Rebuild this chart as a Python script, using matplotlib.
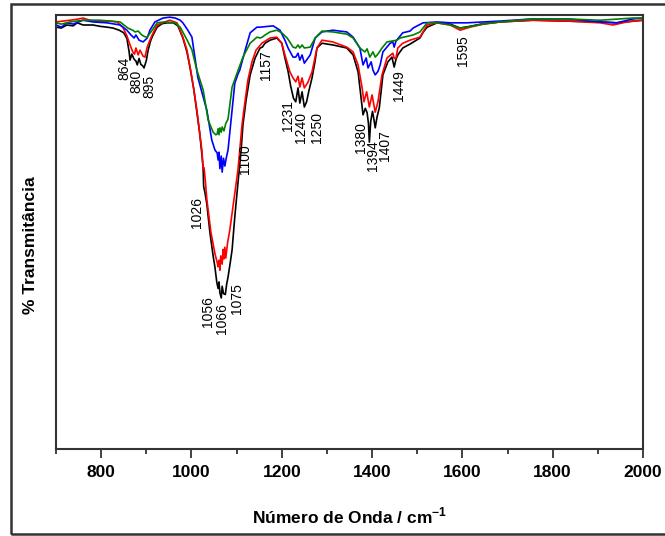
import matplotlib
matplotlib.use("Agg")

import matplotlib.pyplot as plt
from matplotlib.patches import Rectangle

plt.rcParams["font.family"] = ["Liberation Sans", "DejaVu Sans"]
plt.rcParams["mathtext.fontset"] = "custom"
plt.rcParams["mathtext.rm"] = "Liberation Sans"
plt.rcParams["mathtext.bf"] = "Liberation Sans:bold"

# spectra (wavenumber, % transmittance)
black_wn = [700, 712, 724, 738, 747, 760, 782, 797, 813, 826, 840, 850, 857, 862, 864,
            868, 873, 877, 880, 884, 888, 892, 895, 900, 904, 910, 915, 924, 935, 946,
            960, 970, 981, 990, 997, 1005, 1012, 1018, 1021, 1024, 1026, 1027, 1030,
            1034, 1041, 1048, 1052, 1056, 1059, 1061, 1063, 1066, 1068, 1071, 1075,
            1078, 1081, 1086, 1090, 1096, 1100, 1103, 1110, 1114, 1121, 1130, 1141,
            1152, 1157, 1163, 1174, 1189, 1200, 1207, 1214, 1220, 1226, 1231, 1236,
            1240, 1245, 1250, 1255, 1260, 1267, 1274, 1278, 1289, 1313, 1344, 1358,
            1369, 1375, 1380, 1385, 1389, 1392, 1394, 1397, 1401, 1404, 1407, 1411,
            1416, 1420, 1424, 1435, 1444, 1449, 1453, 1457, 1468, 1484, 1495, 1506,
            1513, 1522, 1544, 1573, 1595, 1617, 1646, 1683, 1756, 1832, 1905, 1942,
            1978, 2000]
black_t = [97.2, 97.0, 97.7, 97.5, 98.2, 97.7, 97.7, 97.4, 97.2, 97.0, 96.5, 95.9, 94.6,
           91.5, 89.6, 91.0, 89.8, 89.4, 88.5, 90.0, 88.6, 88.3, 87.8, 89.5, 91.9, 94.2,
           95.4, 97.2, 98.0, 98.2, 98.2, 97.5, 94.7, 91.5, 87.8, 83.0, 77.6, 73.0, 70.0,
           67.0, 64.3, 60.5, 59.0, 56.5, 49.8, 44.5, 41.9, 38.5, 37.0, 38.5, 36.0, 34.8,
           37.5, 35.8, 35.6, 38.0, 39.6, 43.0, 45.9, 53.5, 58.0, 61.3, 68.9, 74.7, 80.4,
           86.2, 90.1, 92.4, 92.6, 93.5, 94.2, 94.7, 93.5, 90.1, 87.0, 83.5, 80.8, 80.0,
           83.2, 79.7, 82.3, 78.8, 80.0, 82.5, 85.5, 89.5, 92.4, 93.5, 93.1, 92.4, 90.8,
           86.9, 81.5, 77.0, 78.5, 77.5, 75.0, 70.7, 75.5, 77.8, 76.0, 74.0, 76.5, 78.6,
           82.5, 86.2, 89.2, 90.3, 88.0, 89.8, 90.8, 92.4, 93.3, 94.0, 94.7, 96.0, 97.2,
           98.2, 97.9, 97.0, 97.4, 98.0, 98.4, 98.8, 98.6, 98.4, 98.2, 98.6, 98.8]

red_wn = [700, 715, 731, 745, 760, 775, 797, 820, 835, 848, 857, 864, 870, 874, 877,
          882, 886, 893, 897, 902, 908, 913, 924, 941, 952, 968, 981, 990, 997, 1005,
          1012, 1018, 1023, 1026, 1028, 1031, 1034, 1043, 1052, 1057, 1059, 1061, 1063,
          1065, 1068, 1070, 1072, 1074, 1076, 1080, 1085, 1094, 1103, 1107, 1112, 1119,
          1125, 1134, 1143, 1156, 1174, 1189, 1200, 1207, 1218, 1225, 1231, 1236, 1240,
          1245, 1250, 1258, 1267, 1278, 1289, 1313, 1344, 1358, 1369, 1378, 1382, 1388,
          1394, 1400, 1407, 1413, 1422, 1433, 1446, 1449, 1453, 1457, 1468, 1484, 1506,
          1522, 1544, 1573, 1595, 1617, 1646, 1683, 1756, 1832, 1905, 1934, 1964, 2000]
red_t = [98.4, 98.6, 98.8, 99.0, 99.3, 98.8, 98.4, 98.6, 98.4, 97.2, 95.2, 93.1, 91.5,
         91.0, 92.4, 90.8, 91.9, 90.5, 90.3, 92.6, 94.2, 95.4, 97.7, 98.4, 98.8, 98.2,
         94.9, 91.9, 88.0, 83.0, 78.1, 73.0, 68.9, 64.5, 64.8, 61.5, 57.6, 50.0, 45.0,
         43.0, 42.0, 43.5, 41.2, 44.5, 42.6, 46.0, 43.8, 46.5, 44.0, 47.5, 50.5, 57.4,
         64.3, 68.9, 74.7, 80.4, 85.0, 89.2, 91.9, 93.5, 94.7, 94.9, 93.5, 90.8, 86.9,
         85.5, 84.6, 85.9, 83.4, 85.5, 83.2, 84.5, 86.9, 92.4, 94.2, 93.8, 92.6, 91.5,
         88.5, 83.2, 80.0, 82.3, 78.8, 81.6, 77.6, 80.0, 86.2, 90.1, 91.2, 90.0, 90.1,
         92.4, 93.5, 94.2, 94.9, 97.7, 98.2, 97.7, 96.5, 97.2, 97.9, 98.4, 98.8, 98.6,
         98.2, 97.7, 98.4, 98.8]

blue_wn = [700, 712, 724, 738, 760, 782, 813, 842, 857, 866, 873, 877, 884, 893, 902,
           908, 919, 937, 952, 964, 975, 981, 992, 1001, 1008, 1014, 1026, 1034, 1045,
           1052, 1057, 1059, 1061, 1063, 1066, 1068, 1071, 1074, 1077, 1081, 1090, 1096,
           1103, 1107, 1119, 1130, 1145, 1152, 1181, 1196, 1207, 1214, 1225, 1231, 1236,
           1240, 1245, 1250, 1263, 1274, 1289, 1313, 1344, 1358, 1373, 1380, 1387, 1391,
           1398, 1402, 1407, 1413, 1418, 1424, 1440, 1446, 1449, 1453, 1468, 1484, 1491,
           1513, 1544, 1573, 1610, 1646, 1683, 1756, 1832, 1905, 1942, 1978, 2000]
blue_t = [97.7, 97.2, 98.2, 97.9, 98.8, 98.4, 98.2, 97.7, 96.5, 95.4, 94.7, 95.4, 94.2,
          93.8, 94.7, 96.5, 98.4, 99.3, 99.5, 99.3, 98.8, 98.2, 96.5, 94.9, 90.0, 85.7,
          81.1, 78.1, 71.2, 68.9, 68.2, 66.6, 68.4, 64.6, 67.5, 63.8, 67.0, 65.2, 67.0,
          68.9, 78.1, 84.3, 86.4, 87.3, 91.9, 95.9, 97.2, 97.2, 97.5, 96.5, 94.2, 92.4,
          90.3, 90.3, 91.2, 89.6, 90.8, 88.9, 90.8, 94.7, 96.1, 96.5, 96.1, 94.9, 92.4,
          88.5, 90.1, 87.8, 89.2, 87.3, 86.2, 87.0, 88.5, 91.5, 93.5, 93.8, 92.6, 94.0,
          95.9, 96.3, 97.0, 98.2, 98.4, 98.2, 98.2, 98.4, 98.6, 99.1, 99.1, 98.4, 98.2,
          99.1, 99.3]

green_wn = [700, 712, 731, 760, 797, 842, 859, 870, 875, 882, 890, 897, 902, 913, 924,
            941, 964, 975, 988, 1001, 1012, 1026, 1037, 1048, 1054, 1057, 1059, 1061,
            1063, 1066, 1068, 1072, 1076, 1081, 1090, 1101, 1114, 1130, 1145, 1152, 1157,
            1163, 1174, 1189, 1200, 1212, 1225, 1231, 1236, 1240, 1245, 1250, 1263, 1274,
            1289, 1313, 1344, 1358, 1373, 1384, 1389, 1395, 1402, 1407, 1413, 1422, 1433,
            1455, 1462, 1491, 1506, 1522, 1544, 1573, 1595, 1610, 1646, 1683, 1756, 1832,
            1905, 1978, 2000]
green_t = [98.2, 97.9, 98.4, 98.8, 98.8, 98.4, 97.0, 96.5, 96.1, 96.3, 95.4, 95.0, 94.9,
           96.5, 98.2, 98.4, 98.2, 97.2, 94.7, 92.0, 87.3, 82.7, 75.8, 73.0, 72.4, 72.6,
           73.8, 72.4, 74.0, 73.0, 74.2, 73.3, 75.0, 76.0, 83.4, 86.6, 90.3, 93.5, 94.9,
           94.7, 94.9, 95.4, 96.1, 96.5, 95.9, 94.7, 92.6, 92.4, 93.1, 92.4, 93.1, 92.4,
           92.6, 94.7, 96.3, 96.1, 95.6, 94.7, 92.4, 91.5, 92.2, 90.3, 91.5, 90.3, 91.0,
           92.4, 93.8, 94.2, 94.7, 95.4, 96.1, 98.2, 98.2, 97.7, 97.0, 97.2, 97.9, 98.4,
           99.1, 99.1, 98.8, 99.3, 99.3]

# peak annotations: text, x anchor (cm-1), top of text (% T)
peak_text = ["864", "880", "895", "1026", "1056", "1066", "1075", "1100", "1157",
             "1231", "1240", "1250", "1380", "1394", "1407", "1449", "1595"]
peak_x = [852, 878, 907, 1012, 1037, 1068, 1101, 1119, 1165,
          1214, 1243, 1278, 1375, 1401, 1429, 1460, 1601]
peak_y = [90.3, 87.3, 86.2, 58.1, 35.3, 33.6, 38.2, 70.3, 91.9,
          80.4, 77.6, 77.6, 75.3, 71.2, 73.5, 87.3, 95.4]

fig = plt.figure(figsize=(6.65, 5.36), dpi=100)
ax = fig.add_axes([0.0842, 0.1623, 0.8827, 0.8097])

ax.plot(black_wn, black_t, color="black", linewidth=1.2)
ax.plot(red_wn, red_t, color="red", linewidth=1.2)
ax.plot(blue_wn, blue_t, color="blue", linewidth=1.2)
ax.plot(green_wn, green_t, color="green", linewidth=1.2)

for txt, x, y in zip(peak_text, peak_x, peak_y):
    ax.text(x, y, txt, rotation=90, ha="center", va="top", fontsize=10)

ax.set_xlim(700, 2000)
ax.set_ylim(0, 100)
ax.set_xticks(range(800, 2001, 200))
ax.set_xticks(range(700, 2001, 100), minor=True)
ax.set_yticks([])
ax.tick_params(axis="x", which="major", direction="out", length=6.5, width=1.2,
               pad=5, labelsize=12.5, colors="#222222")
ax.tick_params(axis="x", which="minor", direction="out", length=3.5, width=1.2,
               colors="#222222")
for lab in ax.get_xticklabels():
    lab.set_fontweight("bold")
    lab.set_color("black")
for sp in ax.spines.values():
    sp.set_linewidth(1.5)
    sp.set_color("#333333")

ax.set_xlabel(r"Número de Onda / cm$^{\mathbf{-1}}$", fontsize=12.5, fontweight="bold")
ax.xaxis.set_label_coords(0.5, -0.154)
ax.xaxis.label.set_va("center")
ax.set_ylabel("% Transmitância", fontsize=12.5, fontweight="bold")
ax.yaxis.set_label_coords(-0.044, 0.47)
ax.yaxis.label.set_va("center")

fig.patches.append(Rectangle((11 / 665, 2 / 536), 1.0, 530 / 536,
                             transform=fig.transFigure, fill=False,
                             linewidth=1.8, edgecolor="#333333"))

fig.savefig("out.png", dpi=100)
plt.close(fig)
